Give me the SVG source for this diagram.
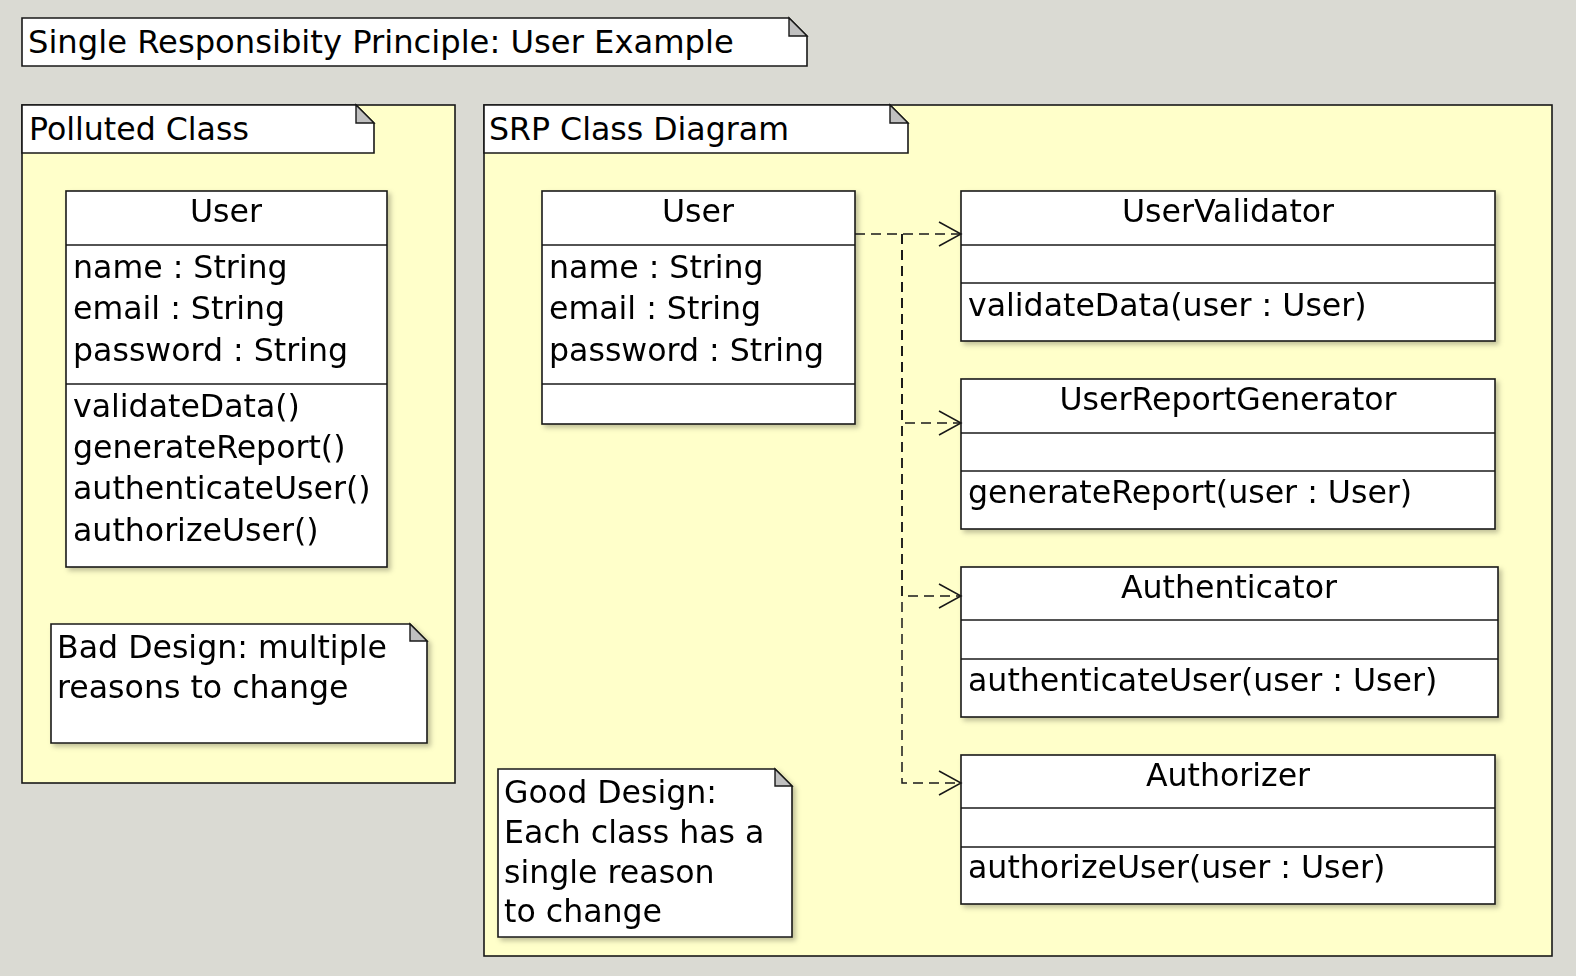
<svg xmlns="http://www.w3.org/2000/svg" width="1576" height="976" viewBox="0 0 1576 976">
<style>
text{font-family:"DejaVu Sans","Noto Sans",sans-serif;font-size:31.6px;fill:#000}
.ttl{font-size:32.2px}
.box{fill:#fff;stroke:#181818;stroke-width:1.6}
.pkg{fill:#FFFFCA;stroke:#181818;stroke-width:1.6}
.fold{fill:#C0C0C0;stroke:#181818;stroke-width:1.4}
.sep{stroke:#181818;stroke-width:1.6;fill:none}
.mid{text-anchor:middle}
.dep{fill:none;stroke:#181818;stroke-width:1.5;stroke-dasharray:10,6}
</style>
<defs>
<filter id="sh" x="-5%" y="-5%" width="115%" height="120%">
<feDropShadow dx="3" dy="3" stdDeviation="2.5" flood-color="#000" flood-opacity="0.25"/>
</filter>
<marker id="open" viewBox="-25 -15 28 30" refX="0" refY="0" markerWidth="28" markerHeight="30" markerUnits="userSpaceOnUse" orient="auto">
<path d="M-22,-12 L0,0 L-22,12" fill="none" stroke="#181818" stroke-width="1.5" stroke-dasharray="none"/>
</marker>
</defs>
<rect x="0" y="0" width="1576" height="976" fill="#DADAD3"/>

<g id="title">
<path class="box" d="M22,18 H789 L807,36 V66 H22 Z"/>
<path class="fold" d="M789,18 V36 H807 Z"/>
<text class="ttl" x="28" y="53">Single Responsibity Principle: User Example</text>
</g>

<g id="pkg-polluted">
<rect class="pkg" x="22" y="105" width="433" height="678"/>
<path class="box" d="M22,105 H356 L374,123 V153 H22 Z"/>
<path class="fold" d="M356,105 V123 H374 Z"/>
<text x="29" y="140">Polluted Class</text>
</g>

<g id="pkg-srp">
<rect class="pkg" x="484" y="105" width="1068" height="851"/>
<path class="box" d="M484,105 H890 L908,123 V153 H484 Z"/>
<path class="fold" d="M890,105 V123 H908 Z"/>
<text x="489" y="140">SRP Class Diagram</text>
</g>

<g id="user-polluted" filter="url(#sh)">
<rect class="box" x="66" y="191" width="321" height="376"/>
<line class="sep" x1="66" y1="245" x2="387" y2="245"/>
<line class="sep" x1="66" y1="384" x2="387" y2="384"/>
<text class="mid" x="226" y="222">User</text>
<text x="73" y="278">name : String</text>
<text x="73" y="319">email : String</text>
<text x="73" y="361">password : String</text>
<text x="73" y="417">validateData()</text>
<text x="73" y="458">generateReport()</text>
<text x="73" y="499">authenticateUser()</text>
<text x="73" y="541">authorizeUser()</text>
</g>

<g id="note-bad" filter="url(#sh)">
<path class="box" d="M51,624 H410 L427,641 V743 H51 Z"/>
<path class="fold" d="M410,624 V641 H427 Z"/>
<text x="57" y="658">Bad Design: multiple</text>
<text x="57" y="698">reasons to change</text>
</g>

<g id="user-srp" filter="url(#sh)">
<rect class="box" x="542" y="191" width="313" height="233"/>
<line class="sep" x1="542" y1="245" x2="855" y2="245"/>
<line class="sep" x1="542" y1="384" x2="855" y2="384"/>
<text class="mid" x="698" y="222">User</text>
<text x="549" y="278">name : String</text>
<text x="549" y="319">email : String</text>
<text x="549" y="361">password : String</text>
</g>

<g id="user-validator" filter="url(#sh)">
<rect class="box" x="961" y="191" width="534" height="150"/>
<line class="sep" x1="961" y1="245" x2="1495" y2="245"/>
<line class="sep" x1="961" y1="283" x2="1495" y2="283"/>
<text class="mid" x="1228" y="222">UserValidator</text>
<text x="968" y="316">validateData(user : User)</text>
</g>

<g id="user-report-generator" filter="url(#sh)">
<rect class="box" x="961" y="379" width="534" height="150"/>
<line class="sep" x1="961" y1="433" x2="1495" y2="433"/>
<line class="sep" x1="961" y1="471" x2="1495" y2="471"/>
<text class="mid" x="1228" y="410">UserReportGenerator</text>
<text x="968" y="503">generateReport(user : User)</text>
</g>

<g id="authenticator" filter="url(#sh)">
<rect class="box" x="961" y="567" width="537" height="150"/>
<line class="sep" x1="961" y1="620" x2="1498" y2="620"/>
<line class="sep" x1="961" y1="659" x2="1498" y2="659"/>
<text class="mid" x="1229" y="598">Authenticator</text>
<text x="968" y="691">authenticateUser(user : User)</text>
</g>

<g id="authorizer" filter="url(#sh)">
<rect class="box" x="961" y="755" width="534" height="149"/>
<line class="sep" x1="961" y1="808" x2="1495" y2="808"/>
<line class="sep" x1="961" y1="847" x2="1495" y2="847"/>
<text class="mid" x="1228" y="786">Authorizer</text>
<text x="968" y="878">authorizeUser(user : User)</text>
</g>

<g id="note-good" filter="url(#sh)">
<path class="box" d="M498,769 H775 L792,786 V937 H498 Z"/>
<path class="fold" d="M775,769 V786 H792 Z"/>
<text x="504" y="803">Good Design:</text>
<text x="504" y="843">Each class has a</text>
<text x="504" y="883">single reason</text>
<text x="504" y="922">to change</text>
</g>

<g id="connectors">
<path class="dep" d="M855,234 H961" marker-end="url(#open)"/>
<path class="dep" d="M902,234 V423 H961" marker-end="url(#open)"/>
<path class="dep" d="M902,234 V596 H961" marker-end="url(#open)"/>
<path class="dep" d="M902,234 V783 H961" marker-end="url(#open)"/>
</g>
</svg>
